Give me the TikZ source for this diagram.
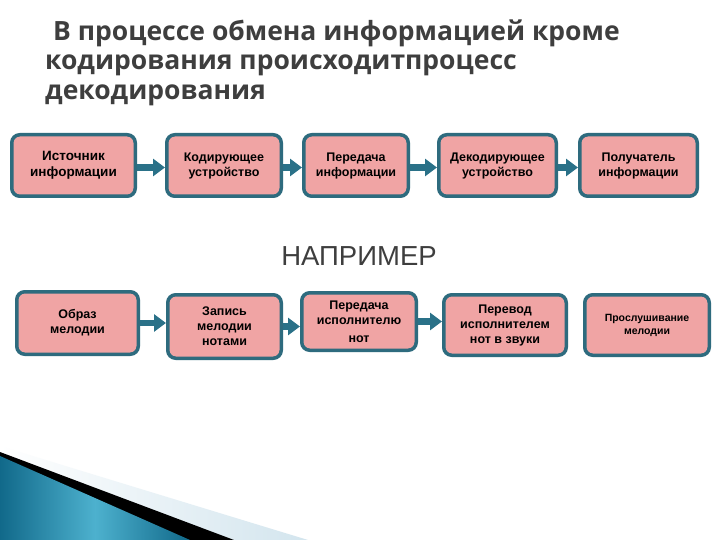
\documentclass[tikz,border=0pt]{standalone}
\usepackage{fontspec}
\setmainfont{Liberation Sans}
\newfontfamily\titlefont{Open Sans}
\usetikzlibrary{arrows.meta}
\definecolor{boxfill}{HTML}{F0A4A4}
\definecolor{boxline}{HTML}{2E6B7E}
\definecolor{arrowc}{HTML}{2A7188}
\definecolor{titlec}{HTML}{3E3E3E}
\definecolor{tealdark}{HTML}{11698A}
\definecolor{teallight}{HTML}{4DB1CE}
\definecolor{paleblue}{HTML}{D3E5EE}
\begin{document}
\begin{tikzpicture}[x=1pt,y=-1pt,
  infobox/.style={draw=boxline, line width=3.5pt, fill=boxfill, rounded corners=8pt,
    align=center, inner sep=2pt, font=\bfseries\fontsize{12.5}{15}\selectfont},
  flow/.style={draw=arrowc, line width=6.5pt, -{Triangle[length=12pt,width=17pt]}},
  titletext/.style={text=titlec, font=\titlefont\bfseries\fontsize{26.5}{29.5}\selectfont, anchor=base west, inner sep=0pt},
  examplelabel/.style={text=titlec, font=\fontsize{27.5}{32}\selectfont, inner sep=0pt}]
\useasboundingbox (0,0) rectangle (720,540);
\fill[white] (0,0) rectangle (720,540);

% title
\node[titletext] (title1) at (53,41) {В процессе обмена информацией кроме};
\node[titletext] (title2) at (45,70) {кодирования происходитпроцесс};
\node[titletext] (title3) at (45,100) {декодирования};

% top row
\node[infobox, minimum width=123.5pt, minimum height=61.5pt, font=\bfseries\fontsize{13.5}{15.5}\selectfont] (t1) at (73.5,165.5) {Источник\\информации};
\node[infobox, minimum width=114.5pt, minimum height=61.5pt] (t2) at (224,165.5) {Кодирующее\\устройство};
\node[infobox, minimum width=104.5pt, minimum height=61.5pt] (t3) at (356,165.5) {Передача\\информации};
\node[infobox, minimum width=117.5pt, minimum height=61.5pt] (t4) at (497.5,165.5) {Декодирующее\\устройство};
\node[infobox, minimum width=117.5pt, minimum height=61.5pt] (t5) at (638.5,165.5) {Получатель\\информации};

\draw[flow] ([yshift=-2pt]t1.east) -- ([yshift=-2pt]t1.east -| t2.west);
\draw[flow] ([yshift=-2pt]t2.east) -- ([yshift=-2pt]t2.east -| t3.west);
\draw[flow] ([yshift=-2pt]t3.east) -- ([yshift=-2pt]t3.east -| t4.west);
\draw[flow] ([yshift=-2pt]t4.east) -- ([yshift=-2pt]t4.east -| t5.west);

% example label
\node[examplelabel] (ex) at (359,256) {НАПРИМЕР};

% bottom row
\node[infobox, minimum width=121.5pt, minimum height=62.5pt] (b1) at (77.5,323) {Образ\\мелодии};
\node[infobox, minimum width=113.5pt, minimum height=63.5pt] (b2) at (224.5,326.5) {Запись\\мелодии\\нотами};
\node[infobox, minimum width=114.5pt, minimum height=57.5pt] (b3) at (359,321.5) {Передача\\исполнителю\\[3pt]нот};
\node[infobox, minimum width=122.5pt, minimum height=60.5pt] (b4) at (505,325) {Перевод\\исполнителем\\нот в звуки};
\node[infobox, minimum width=124.5pt, minimum height=60.5pt, font=\bfseries\fontsize{10.5}{13}\selectfont] (b5) at (647,325) {Прослушивание\\мелодии};

\draw[flow] (b1.east) -- (b1.east -| b2.west);
\draw[flow] (b2.east) -- (b2.east -| b3.west);
\draw[flow] (b3.east) -- (b3.east -| b4.west);

% decoration bottom-left
\shade[left color=white, right color=paleblue] (0,446) -- (308,540) -- (0,540) -- cycle;
\fill[black] (0,452) -- (234,540) -- (0,540) -- cycle;
\shade[left color=tealdark, right color=tealdark, middle color=teallight] (0,456) -- (190,540) -- (0,540) -- cycle;
\end{tikzpicture}
\end{document}
